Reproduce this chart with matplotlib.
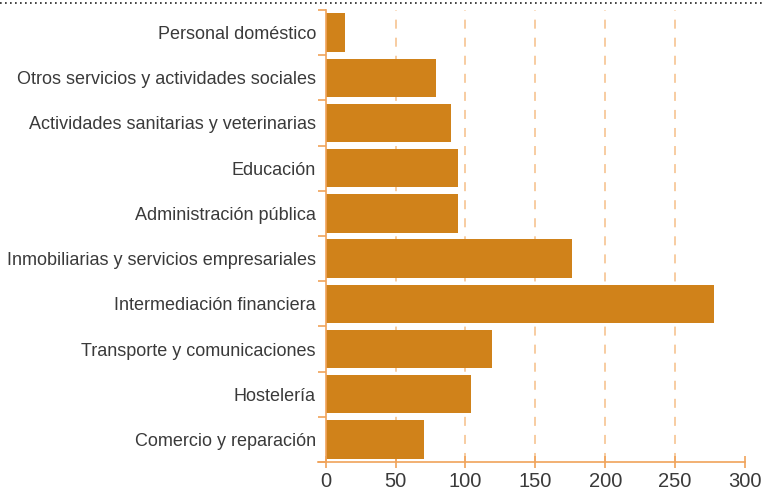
import matplotlib
matplotlib.use("Agg")
import matplotlib.pyplot as plt
from matplotlib.lines import Line2D
import numpy as np

categories = ["Comercio y reparación", "Hostelería", "Transporte y comunicaciones",
              "Intermediación financiera", "Inmobiliarias y servicios empresariales",
              "Administración pública", "Educación", "Actividades sanitarias y veterinarias",
              "Otros servicios y actividades sociales", "Personal doméstico"]
values = [70, 104, 119, 278, 176, 95, 95, 90, 79, 14]
xticks = [0, 50, 100, 150, 200, 250, 300]

plt.rcParams['font.family'] = ['Liberation Sans', 'DejaVu Sans']

bar_color = "#D0821A"
axis_color = "#F0A35A"
grid_color = "#F7C89A"
text_color = "#3a3a3a"

fig = plt.figure(figsize=(7.63, 4.91), dpi=100)
ax = fig.add_axes([318/763, 1-462/491, (745-318)/763, (462-10)/491])

y = np.arange(len(categories))
for g in xticks[1:-1]:
    ax.axvline(g, color=grid_color, lw=1.3, ls=(0, (5, 5)), zorder=0)
ax.barh(y, values, height=0.85, color=bar_color, zorder=2)

ax.set_xlim(-5.5, 300)
ax.set_ylim(-0.5, len(categories) - 0.5)
ax.set_yticks(np.arange(-0.5, len(categories)), minor=True)
ax.set_xticks(xticks)
ax.set_xticklabels([str(t) for t in xticks])
ax.set_yticks(y)
ax.set_yticklabels(categories)
ax.tick_params(axis='y', which='major', length=0, pad=7, labelsize=13, labelcolor=text_color)
ax.tick_params(axis='y', which='minor', length=6, color=axis_color, width=1.2, labelleft=False)
ax.tick_params(axis='x', direction='inout', length=8, color=axis_color, width=1.2, pad=3,
               labelsize=14.5, labelcolor=text_color)

for s in ['top', 'right']:
    ax.spines[s].set_visible(False)
ax.spines['left'].set_position(('data', 0))
ax.spines['left'].set_color(axis_color)
ax.spines['left'].set_linewidth(1.2)
ax.spines['bottom'].set_color(axis_color)
ax.spines['bottom'].set_linewidth(1.2)

fig.add_artist(Line2D([0, 1], [1 - 3/491, 1 - 3/491], transform=fig.transFigure,
                      color="#222222", lw=1.2, ls=(0, (1, 2))))

fig.savefig("out.png", dpi=100)
